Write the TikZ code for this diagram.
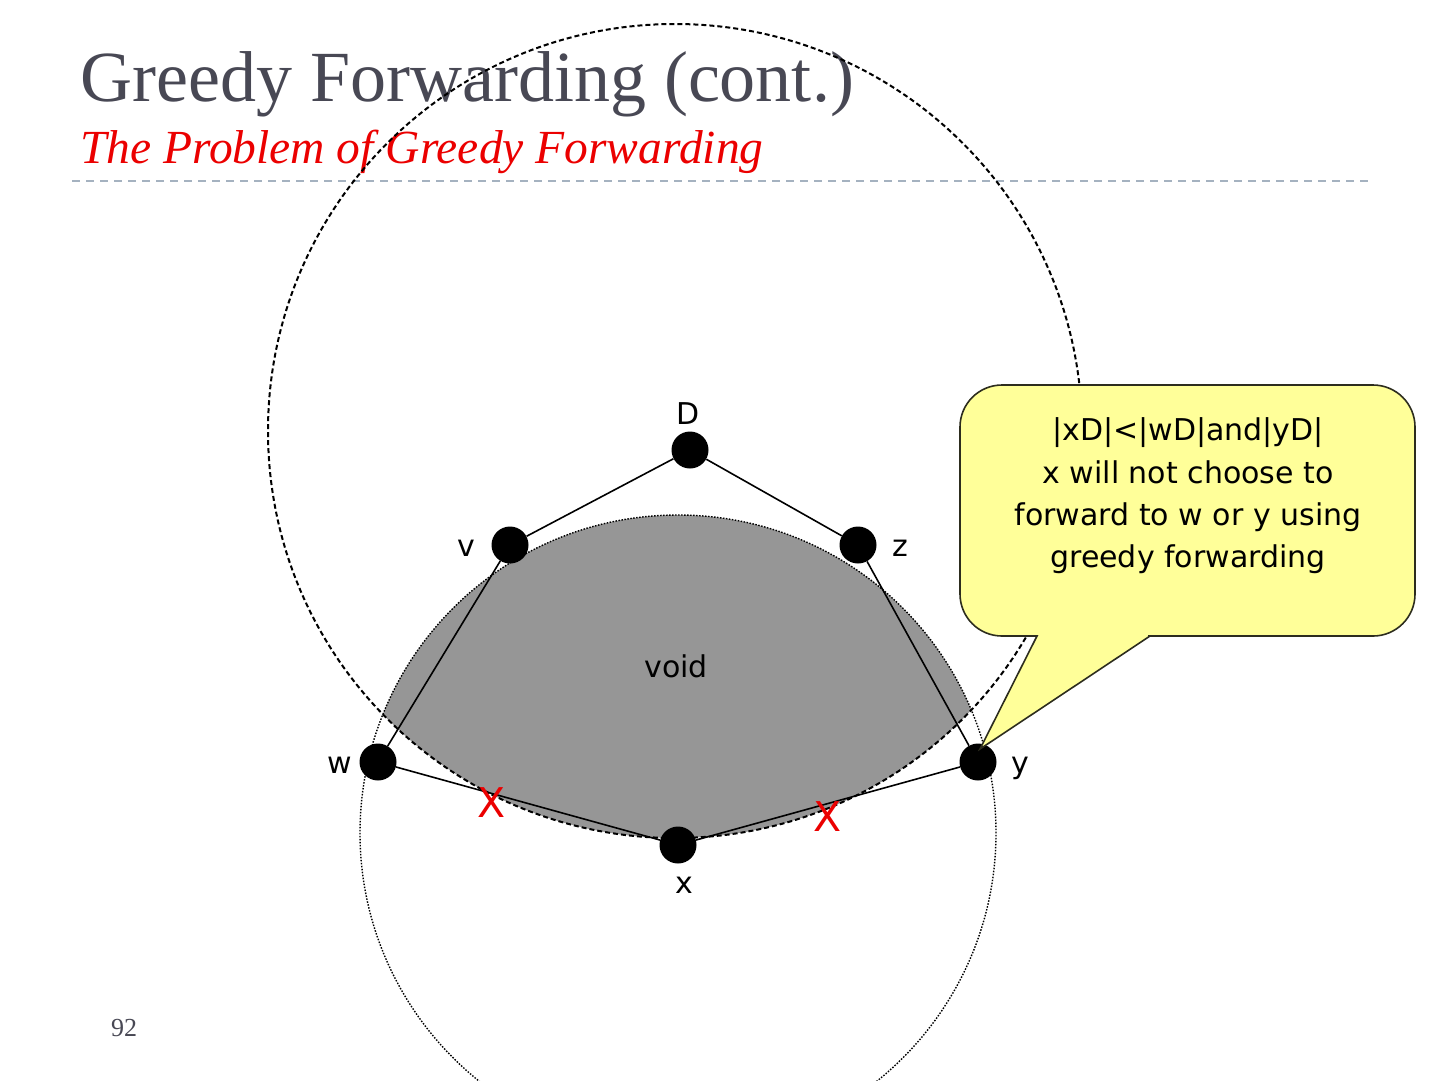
\documentclass[tikz,border=0pt]{standalone}
\usepackage{fontspec}
\setmainfont{Liberation Serif}
\newfontfamily\diagfont{DejaVu Sans}
\usepackage{tikz}
\usetikzlibrary{calc}
\definecolor{gfTitle}{RGB}{72,72,84}
\definecolor{gfRed}{RGB}{235,0,0}
\definecolor{gfRule}{RGB}{165,178,192}
\definecolor{gfVoid}{RGB}{150,150,150}
\definecolor{gfNote}{RGB}{255,255,153}
\definecolor{gfNoteLine}{RGB}{45,45,30}

\begin{document}
\begin{tikzpicture}[x=1pt, y=-1pt]
\tikzstyle{hostdot}=[circle, fill=black, minimum size=37pt, inner sep=0pt]
\tikzstyle{lbl}=[inner sep=0pt, font=\diagfont\fontsize{30}{36}\selectfont]
\tikzstyle{failmark}=[inner sep=0pt, text=gfRed, font=\diagfont\fontsize{41}{48}\selectfont]
\tikzstyle{link}=[line width=1.6pt]
\tikzstyle{rangeD}=[line width=2pt, dash pattern=on 5pt off 3pt]
\tikzstyle{rangeX}=[line width=1.4pt, dash pattern=on 1.5pt off 1.5pt]
\useasboundingbox (0,0) rectangle (1440,1080);
\clip (0,0) rectangle (1440,1080);
\node[anchor=base west, inner sep=0pt, text=gfTitle, font=\fontsize{72}{80}\selectfont] (title) at (80,101) {Greedy Forwarding (cont.)};
\node[anchor=base west, inner sep=0pt, text=gfRed, font=\itshape\fontsize{47.5}{56}\selectfont] (subtitle) at (80,163) {The Problem of Greedy Forwarding};
\draw[gfRule, line width=2pt, dash pattern=on 8pt off 6pt] (72,181) -- (1368,181);
\node[inner sep=0pt, text=gfTitle, font=\fontsize{26}{30}\selectfont] (pagenum) at (124,1028) {92};
\begin{scope}
\clip (675,431) circle (407pt);
\fill[gfVoid] (678,833) circle (318pt);
\end{scope}
\draw[rangeD] (675,431) circle (407pt);
\draw[rangeX] (678,833) circle (318pt);
\node[hostdot] (nodeD) at (690,450) {};
\node[hostdot] (nodeV) at (510,545) {};
\node[hostdot] (nodeZ) at (858,545) {};
\node[hostdot] (nodeW) at (378,762) {};
\node[hostdot] (nodeY) at (978,762) {};
\node[hostdot] (nodeX) at (678,845) {};
\draw[link] (nodeD) -- (nodeV) -- (nodeW) -- (nodeX) -- (nodeY) -- (nodeZ) -- (nodeD);
\node[lbl] (labD) at (688,414) {D};
\node[lbl] (labV) at (466,548) {v};
\node[lbl] (labZ) at (900,548) {z};
\node[lbl] (labW) at (340,765) {w};
\node[lbl] (labY) at (1020,768) {y};
\node[lbl] (labX) at (684,885) {x};
\node[lbl] (void) at (676,666) {void};
\filldraw[fill=gfNote, draw=gfNoteLine, line width=1.6pt] (980,749) -- (1037,636) -- (1005,636) [rounded corners=42pt] -- (960,636) -- (960,385) -- (1415,385) -- (1415,636) -- (1190,636) [sharp corners] -- (1150,636) -- cycle;
\node[lbl, align=center, font=\diagfont\fontsize{30}{42.3}\selectfont] (note) at (1188,496) {|xD|<|wD|and|yD|\\x will not choose to\\forward to w or y using\\greedy forwarding};
\node[failmark] (failW) at (492,803) {X};
\node[failmark] (failY) at (828,817) {X};
\end{tikzpicture}
\end{document}
